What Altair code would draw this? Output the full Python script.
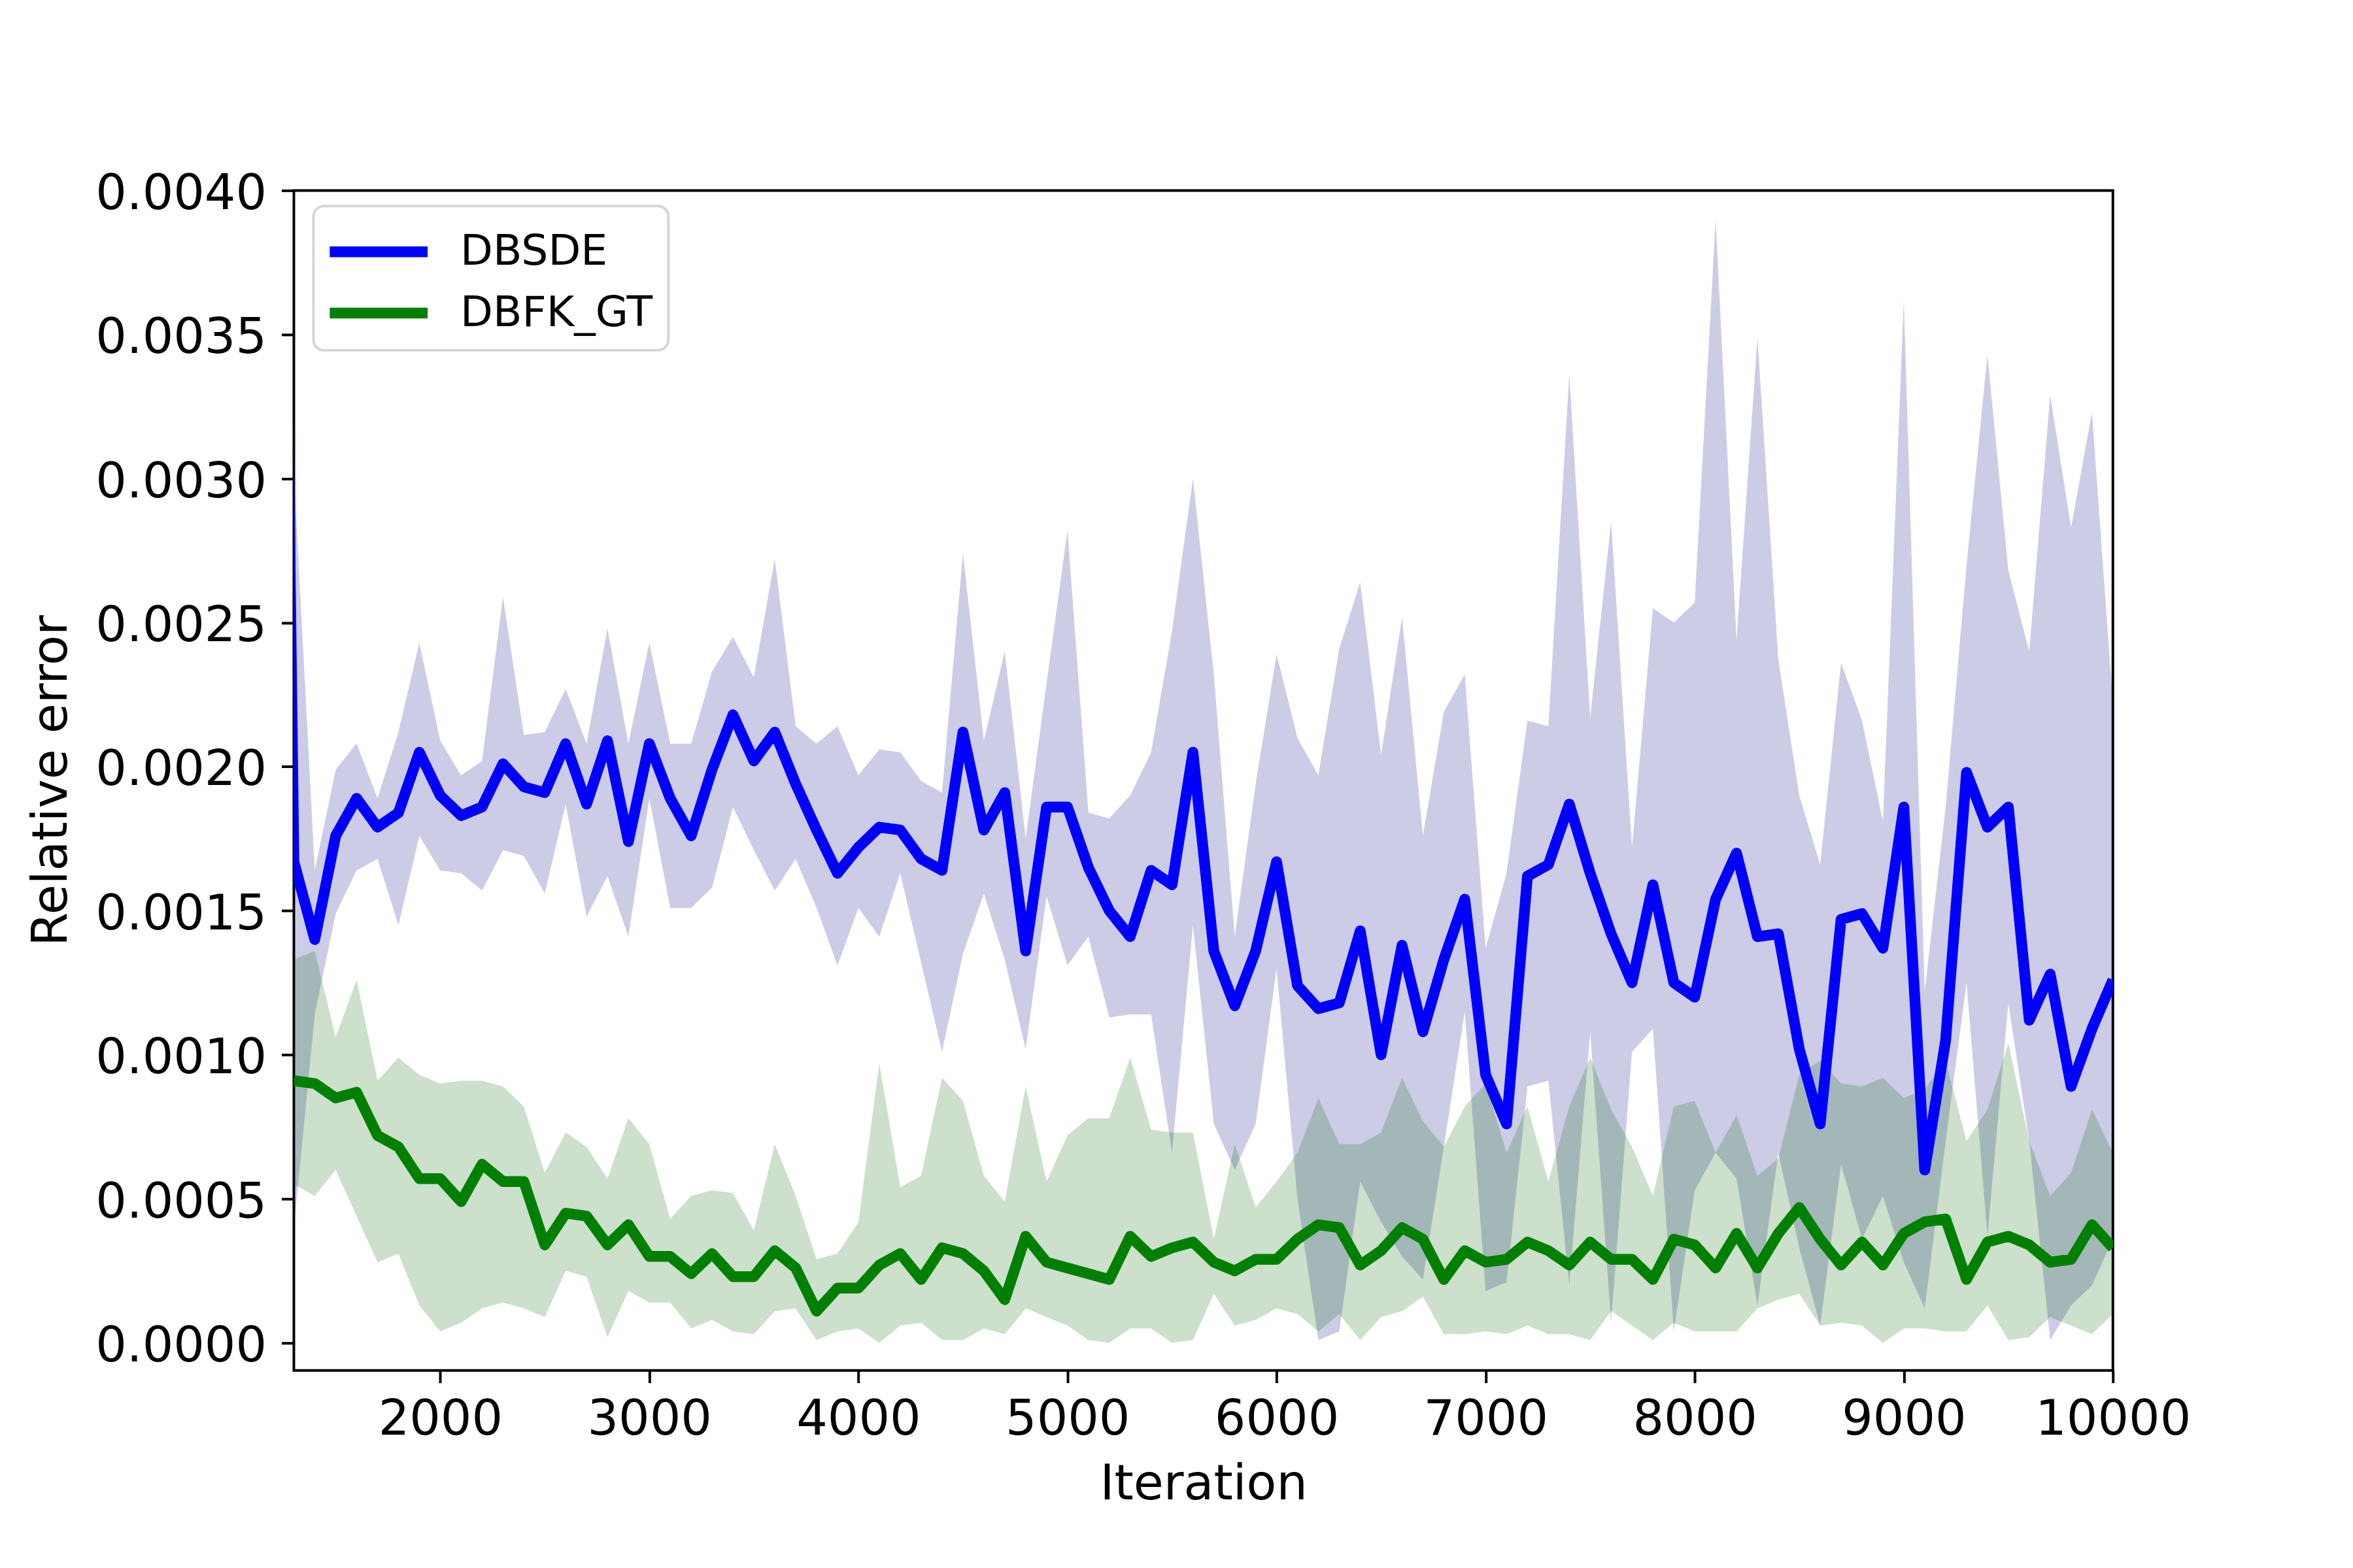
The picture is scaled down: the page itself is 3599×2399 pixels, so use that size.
import altair as alt
import pandas as pd

# ---------------- data ----------------
iterations = list(range(1300, 10001, 100))

dbsde_mean = [
    0.00167, 0.00140, 0.00176, 0.00189, 0.00179, 0.00184, 0.00205, 0.00190, 0.00183, 0.00186,
    0.00201, 0.00193, 0.00191, 0.00208, 0.00187, 0.00209, 0.00174, 0.00208, 0.00189, 0.00176,
    0.00199, 0.00218, 0.00202, 0.00212, 0.00194, 0.00178, 0.00163, 0.00172, 0.00179, 0.00178,
    0.00168, 0.00164, 0.00212, 0.00178, 0.00191, 0.00136, 0.00186, 0.00186, 0.00165, 0.00150,
    0.00141, 0.00164, 0.00159, 0.00205, 0.00136, 0.00117, 0.00136, 0.00167, 0.00124, 0.00116,
    0.00118, 0.00143, 0.00100, 0.00138, 0.00108, 0.00133, 0.00154, 0.00093, 0.00076, 0.00162,
    0.00166, 0.00187, 0.00163, 0.00142, 0.00125, 0.00159, 0.00125, 0.00120, 0.00154, 0.00170,
    0.00141, 0.00142, 0.00102, 0.00076, 0.00147, 0.00149, 0.00137, 0.00186, 0.00060, 0.00105,
    0.00198, 0.00179, 0.00186, 0.00112, 0.00128, 0.00089, 0.00109, 0.00126]
dbsde_upper = [
    0.00302, 0.00164, 0.00199, 0.00208, 0.00189, 0.00212, 0.00243, 0.00209, 0.00197, 0.00202,
    0.00259, 0.00211, 0.00212, 0.00227, 0.00208, 0.00248, 0.00208, 0.00243, 0.00208, 0.00208,
    0.00233, 0.00245, 0.00231, 0.00272, 0.00214, 0.00208, 0.00214, 0.00197, 0.00206, 0.00205,
    0.00195, 0.00191, 0.00274, 0.00209, 0.00240, 0.00175, 0.00229, 0.00282, 0.00184, 0.00182,
    0.00190, 0.00205, 0.00247, 0.00300, 0.00232, 0.00141, 0.00194, 0.00239, 0.00210, 0.00197,
    0.00241, 0.00264, 0.00204, 0.00252, 0.00176, 0.00219, 0.00232, 0.00137, 0.00163, 0.00216,
    0.00214, 0.00336, 0.00217, 0.00285, 0.00172, 0.00255, 0.00250, 0.00257, 0.00390, 0.00244,
    0.00349, 0.00237, 0.00190, 0.00166, 0.00236, 0.00216, 0.00181, 0.00362, 0.00122, 0.00186,
    0.00270, 0.00343, 0.00268, 0.00240, 0.00329, 0.00283, 0.00323, 0.00222]
dbsde_lower = [
    0.00040, 0.00114, 0.00149, 0.00164, 0.00168, 0.00145, 0.00176, 0.00164, 0.00163, 0.00157,
    0.00171, 0.00169, 0.00156, 0.00187, 0.00148, 0.00162, 0.00141, 0.00189, 0.00151, 0.00151,
    0.00158, 0.00186, 0.00171, 0.00157, 0.00168, 0.00151, 0.00131, 0.00151, 0.00141, 0.00163,
    0.00132, 0.00101, 0.00135, 0.00156, 0.00133, 0.00102, 0.00155, 0.00131, 0.00141, 0.00113,
    0.00114, 0.00114, 0.00066, 0.00145, 0.00076, 0.00060, 0.00076, 0.00130, 0.00050, 0.00001,
    0.00004, 0.00056, 0.00042, 0.00030, 0.00022, 0.00068, 0.00115, 0.00018, 0.00021, 0.00089,
    0.00091, 0.00020, 0.00108, 0.00007, 0.00101, 0.00109, 0.00004, 0.00053, 0.00066, 0.00057,
    0.00013, 0.00066, 0.00033, 0.00006, 0.00062, 0.00036, 0.00051, 0.00028, 0.00012, 0.00070,
    0.00125, 0.00037, 0.00118, 0.00070, 0.00001, 0.00013, 0.00020, 0.00036]

dbfk_mean = [
    0.00091, 0.00090, 0.00085, 0.00087, 0.00072, 0.00068, 0.00057, 0.00057, 0.00049, 0.00062,
    0.00056, 0.00056, 0.00034, 0.00045, 0.00044, 0.00034, 0.00041, 0.00030, 0.00030, 0.00024,
    0.00031, 0.00023, 0.00023, 0.00032, 0.00026, 0.00011, 0.00019, 0.00019, 0.00027, 0.00031,
    0.00022, 0.00033, 0.00031, 0.00025, 0.00015, 0.00037, 0.00028, 0.00026, 0.00024, 0.00022,
    0.00037, 0.00030, 0.00033, 0.00035, 0.00028, 0.00025, 0.00029, 0.00029, 0.00036, 0.00041,
    0.00040, 0.00027, 0.00032, 0.00040, 0.00036, 0.00022, 0.00032, 0.00028, 0.00029, 0.00035,
    0.00032, 0.00027, 0.00035, 0.00029, 0.00029, 0.00022, 0.00036, 0.00034, 0.00026, 0.00038,
    0.00026, 0.00038, 0.00047, 0.00036, 0.00027, 0.00035, 0.00027, 0.00038, 0.00042, 0.00043,
    0.00022, 0.00035, 0.00037, 0.00034, 0.00028, 0.00029, 0.00041, 0.00033]
dbfk_upper = [
    0.00133, 0.00136, 0.00106, 0.00126, 0.00091, 0.00099, 0.00093, 0.00090, 0.00091, 0.00091,
    0.00089, 0.00082, 0.00059, 0.00073, 0.00068, 0.00057, 0.00078, 0.00069, 0.00043, 0.00051,
    0.00053, 0.00052, 0.00039, 0.00069, 0.00051, 0.00029, 0.00031, 0.00042, 0.00097, 0.00054,
    0.00058, 0.00092, 0.00084, 0.00058, 0.00049, 0.00089, 0.00056, 0.00072, 0.00078, 0.00078,
    0.00099, 0.00074, 0.00073, 0.00073, 0.00036, 0.00069, 0.00047, 0.00056, 0.00066, 0.00085,
    0.00069, 0.00069, 0.00073, 0.00092, 0.00077, 0.00068, 0.00082, 0.00090, 0.00066, 0.00082,
    0.00056, 0.00082, 0.00099, 0.00081, 0.00068, 0.00051, 0.00082, 0.00084, 0.00066, 0.00079,
    0.00058, 0.00064, 0.00093, 0.00098, 0.00090, 0.00089, 0.00092, 0.00085, 0.00088, 0.00098,
    0.00070, 0.00081, 0.00104, 0.00070, 0.00051, 0.00059, 0.00081, 0.00066]
dbfk_lower = [
    0.00055, 0.00051, 0.00060, 0.00044, 0.00028, 0.00031, 0.00013, 0.00004, 0.00007, 0.00012,
    0.00014, 0.00012, 0.00009, 0.00025, 0.00023, 0.00002, 0.00018, 0.00014, 0.00014, 0.00005,
    0.00008, 0.00004, 0.00003, 0.00011, 0.00012, 0.00001, 0.00004, 0.00005, 0.00000, 0.00006,
    0.00007, 0.00001, 0.00001, 0.00005, 0.00003, 0.00012, 0.00009, 0.00006, 0.00001, 0.00000,
    0.00005, 0.00005, 0.00000, 0.00001, 0.00017, 0.00006, 0.00008, 0.00012, 0.00010, 0.00004,
    0.00010, 0.00001, 0.00009, 0.00011, 0.00016, 0.00003, 0.00003, 0.00004, 0.00003, 0.00006,
    0.00003, 0.00003, 0.00001, 0.00011, 0.00006, 0.00001, 0.00007, 0.00004, 0.00004, 0.00004,
    0.00012, 0.00015, 0.00017, 0.00006, 0.00007, 0.00006, 0.00000, 0.00005, 0.00005, 0.00004,
    0.00004, 0.00013, 0.00001, 0.00002, 0.00009, 0.00006, 0.00003, 0.00010]

# DBSDE value logged just before the visible window (only its clipped tail shows)
dbsde_lead_iteration = 1200
dbsde_lead_mean = 0.0074

methods = ["DBSDE", "DBFK_GT"]
line_colors = ["#0000ff", "#008000"]
x_ticks = [2000, 3000, 4000, 5000, 6000, 7000, 8000, 9000, 10000]
y_ticks = [0.0, 0.0005, 0.0010, 0.0015, 0.0020, 0.0025, 0.0030, 0.0035, 0.0040]

# ---------------- tables ----------------
lines_df = pd.concat([
    pd.DataFrame({"Iteration": [dbsde_lead_iteration] + iterations,
                  "value": [dbsde_lead_mean] + dbsde_mean, "method": "DBSDE"}),
    pd.DataFrame({"Iteration": iterations, "value": dbfk_mean, "method": "DBFK_GT"}),
], ignore_index=True)

band_df = pd.concat([
    pd.DataFrame({"Iteration": iterations, "lower": dbsde_lower,
                  "upper": dbsde_upper, "method": "DBSDE"}),
    pd.DataFrame({"Iteration": iterations, "lower": dbfk_lower,
                  "upper": dbfk_upper, "method": "DBFK_GT"}),
], ignore_index=True)

W, H = 2788, 1809
FONT = "DejaVu Sans"
LW = 16.5
FS = 75

x_scale = alt.Scale(domain=[1300, 10000], nice=False, zero=False)
y_scale = alt.Scale(domain=[-0.0000955, 0.0040], nice=False, zero=False)

x_axis = alt.Axis(values=x_ticks, format="d", title="Iteration",
                  labelPadding=20.5, labelOverlap=False, labelFlush=False,
                  titleY=197, titleX=W / 2,
                  titleBaseline="alphabetic", titleAlign="center")
y_axis = alt.Axis(values=y_ticks, format=".4f", title="Relative error",
                  labelPadding=23, labelOffset=5, labelOverlap=False, labelFlush=False,
                  titleX=-348.7, titleY=H / 2, titleAngle=270,
                  titleBaseline="alphabetic", titleAlign="center")

base_band = alt.Chart(band_df)

band_blue = base_band.transform_filter(alt.datum.method == "DBSDE").mark_area(
    color="navy", opacity=0.2, clip=True
).encode(
    x=alt.X("Iteration:Q", scale=x_scale, axis=x_axis),
    y=alt.Y("lower:Q", scale=y_scale, axis=y_axis),
    y2="upper:Q",
)

band_green = base_band.transform_filter(alt.datum.method == "DBFK_GT").mark_area(
    color="darkgreen", opacity=0.2, clip=True
).encode(
    x=alt.X("Iteration:Q", scale=x_scale),
    y=alt.Y("lower:Q", scale=y_scale),
    y2="upper:Q",
)

lines = alt.Chart(lines_df).mark_line(
    strokeWidth=LW, strokeJoin="round", clip=True
).encode(
    x=alt.X("Iteration:Q", scale=x_scale),
    y=alt.Y("value:Q", scale=y_scale),
    color=alt.Color(
        "method:N",
        scale=alt.Scale(domain=methods, range=line_colors),
        legend=alt.Legend(
            title=None, orient="none", legendX=30, legendY=24,
            symbolType="M-2,0H2", symbolSize=5625, symbolStrokeWidth=LW,
            symbolOffset=30, labelOffset=79, rowPadding=15, padding=24,
            labelFont=FONT, labelFontSize=65, labelColor="black", labelLimit=0,
            strokeColor="#d6d6d6", cornerRadius=16,
            fillColor="rgba(255,255,255,0.8)",
        ),
    ),
    order=alt.Order("Iteration:Q"),
)

chart = alt.layer(band_blue, band_green, lines).properties(
    width=W, height=H,
    autosize=alt.AutoSizeParams(type="none"),
    padding={"left": 442.4, "top": 281.5, "right": 360, "bottom": 300},
    background="white",
).configure(
    font=FONT
).configure_view(
    stroke="black", strokeWidth=4
).configure_axis(
    grid=False, domain=False, labelLimit=0,
    labelFont=FONT, labelFontSize=FS, labelColor="black",
    titleFont=FONT, titleFontSize=FS, titleColor="black", titleFontWeight="normal",
    tickColor="black", tickSize=19, tickWidth=4,
).configure_legend(
    strokeWidth=4
)

chart.save("out.html", embed_options={"renderer": "svg", "actions": False})
